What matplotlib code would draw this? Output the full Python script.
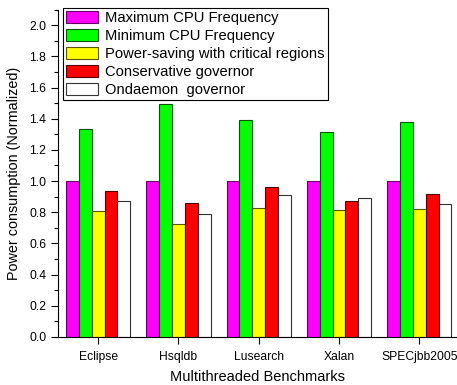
import matplotlib
matplotlib.use('Agg')
import matplotlib.pyplot as plt
import numpy as np
from matplotlib.ticker import MultipleLocator

plt.rcParams['font.family'] = ['Liberation Sans', 'DejaVu Sans']

benchmarks = ['Eclipse', 'Hsqldb', 'Lusearch', 'Xalan', 'SPECjbb2005']
series = ['Maximum CPU Frequency', 'Minimum CPU Frequency',
          'Power-saving with critical regions', 'Conservative governor',
          'Ondaemon  governor']
max_freq = [1.0, 1.0, 1.0, 1.0, 1.0]
min_freq = [1.335, 1.495, 1.39, 1.312, 1.379]
power_saving = [0.81, 0.725, 0.83, 0.814, 0.82]
conservative = [0.935, 0.86, 0.961, 0.873, 0.916]
ondaemon = [0.875, 0.79, 0.91, 0.891, 0.852]

values = [max_freq, min_freq, power_saving, conservative, ondaemon]
faces = ['#ff00ff', '#00ff00', '#ffff00', '#ff0000', '#ffffff']
edges = ['#660066', '#005500', '#555500', '#550000', '#333333']

fig = plt.figure(figsize=(4.57, 3.85), dpi=100)
ax = fig.add_axes([0.127, 0.125, 0.873, 0.85])

x = np.arange(len(benchmarks))
w = 0.16
for i, (vals, name) in enumerate(zip(values, series)):
    ax.bar(x + (i - 2) * w, vals, w, color=faces[i], edgecolor=edges[i],
           linewidth=0.8, label=name)

ax.set_xlim(-0.5, 4.47)
ax.set_ylim(0, 2.1)
ax.set_xticks(x)
ax.set_xticklabels(benchmarks, fontsize=8.7)
ax.yaxis.set_major_locator(MultipleLocator(0.2))
ax.yaxis.set_minor_locator(MultipleLocator(0.1))
ax.yaxis.set_major_formatter(matplotlib.ticker.FormatStrFormatter('%.1f'))
ax.tick_params(axis='y', labelsize=8.7, direction='out', length=5, width=0.8)
ax.tick_params(axis='y', which='minor', length=3, width=0.8)
ax.tick_params(axis='x', direction='out', length=5, width=0.8, pad=5)
for s in ['top', 'right']:
    ax.spines[s].set_visible(False)
ax.set_ylabel('Power consumption (Normalized)', fontsize=10.4, labelpad=6)
ax.set_xlabel('Multithreaded Benchmarks', fontsize=10.5, labelpad=5)

leg = ax.legend(loc='upper left', bbox_to_anchor=(0.012, 1.005), fontsize=10.6,
                fancybox=False, framealpha=1, edgecolor='black',
                handlelength=2.2, handleheight=0.85, labelspacing=0.27,
                borderpad=0.22, handletextpad=0.45, borderaxespad=0)
leg.get_frame().set_linewidth(0.8)

fig.savefig('out.png', dpi=100)
